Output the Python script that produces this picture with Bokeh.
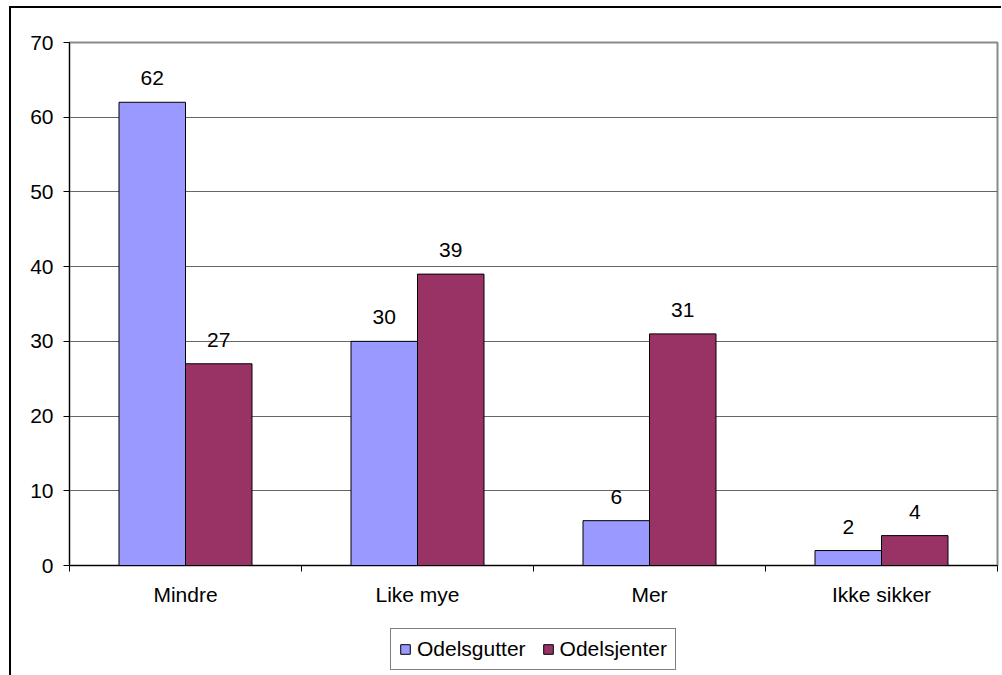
from bokeh.plotting import figure
from bokeh.layouts import column
from bokeh.models import (Range1d, LinearAxis, FixedTicker, ColumnDataSource, Legend, LegendItem)
from bokeh.core.properties import value
from bokeh.embed import file_html
from bokeh.resources import INLINE

categories = ["Mindre", "Like mye", "Mer", "Ikke sikker"]
odelsgutter = [62, 30, 6, 2]
odelsjenter = [27, 39, 31, 4]
series_names = ["Odelsgutter", "Odelsjenter"]
y_ticks = [0, 10, 20, 30, 40, 50, 60, 70]

FONT = "Liberation Sans"
FS = "21px"
BLUE = "#9999FF"
RED = "#993366"
BW = 0.2866

n = len(categories)
centers = [i + 0.5 for i in range(n)]
src = ColumnDataSource(dict(
    x1=[c - BW / 2 for c in centers], x2=[c + BW / 2 for c in centers],
    v1=odelsgutter, v2=odelsjenter,
    t1=[str(v) for v in odelsgutter], t2=[str(v) for v in odelsjenter],
))

p = figure(width=990, height=610, x_range=Range1d(0, n),
           y_range=Range1d(0, 70), x_axis_location=None, output_backend="svg",
           toolbar_location=None, min_border_left=58, min_border_top=34,
           min_border_right=4, min_border_bottom=53)
p.background_fill_color = "white"
p.border_fill_color = "white"
p.outline_line_color = "#8a8a8a"
p.outline_line_width = 2

bar_style = dict(width=BW, line_color="black", line_width=1)
r1 = p.vbar(x="x1", top="v1", source=src, fill_color=BLUE, **bar_style)
r2 = p.vbar(x="x2", top="v2", source=src, fill_color=RED, **bar_style)

for xc, col, t in (("x1", "v1", "t1"), ("x2", "v2", "t2")):
    p.text(x=xc, y=col, text=t, source=src,
           text_font=value(FONT), text_font_size=FS, text_align="center",
           text_baseline="alphabetic", y_offset=-24, text_color="black")

# y axis
p.yaxis.ticker = FixedTicker(ticks=y_ticks)
p.yaxis.axis_line_color = "black"
p.yaxis.major_tick_line_color = "black"
p.yaxis.major_tick_out = 6
p.yaxis.major_tick_in = 0
p.yaxis.minor_tick_line_color = None
p.yaxis.major_label_text_font = FONT
p.yaxis.major_label_text_font_size = FS
p.yaxis.major_label_text_color = "black"
p.yaxis.major_label_standoff = 10
p.ygrid.ticker = FixedTicker(ticks=y_ticks)
p.ygrid.grid_line_color = "#666666"
p.ygrid.grid_line_width = 1
p.xgrid.visible = False

# x axis: boundary ticks + category labels
tick_axis = LinearAxis(ticker=FixedTicker(ticks=list(range(n + 1))))
tick_axis.axis_line_color = "black"
tick_axis.major_tick_line_color = "black"
tick_axis.major_tick_out = 6
tick_axis.major_tick_in = 0
tick_axis.minor_tick_line_color = None
tick_axis.major_label_text_font_size = "1px"
tick_axis.major_label_text_color = None
tick_axis.major_label_standoff = 0
p.add_layout(tick_axis, "below")

cat_axis = LinearAxis(ticker=FixedTicker(ticks=centers),
                      major_label_overrides={c: lab for c, lab in zip(centers, categories)})
cat_axis.axis_line_color = None
cat_axis.major_tick_line_color = None
cat_axis.minor_tick_line_color = None
cat_axis.major_tick_out = 0
cat_axis.major_tick_in = 0
cat_axis.major_label_text_font = FONT
cat_axis.major_label_text_font_size = FS
cat_axis.major_label_text_color = "black"
cat_axis.major_label_standoff = 11
p.add_layout(cat_axis, "below")

# legend strip below the chart
lg = figure(width=990, height=57, x_range=Range1d(0, n), y_range=Range1d(0, 70),
            x_axis_location=None, y_axis_location=None, output_backend="svg",
            toolbar_location=None, min_border=0)
lg.grid.visible = False
lg.outline_line_color = None
lg.background_fill_color = "white"
lg.border_fill_color = "white"
l1 = lg.vbar(x="x1", top="v1", source=src, fill_color=BLUE, visible=False, **bar_style)
l2 = lg.vbar(x="x2", top="v2", source=src, fill_color=RED, visible=False, **bar_style)

legend = Legend(items=[LegendItem(label=series_names[0], renderers=[l1]),
                       LegendItem(label=series_names[1], renderers=[l2])],
                orientation="horizontal", location=(321, 5), margin=0, padding=8,
                spacing=16, glyph_width=12, glyph_height=12, label_standoff=6,
                label_height=19, label_text_font=FONT, label_text_font_size=FS,
                label_text_color="black", border_line_color="black", border_line_width=1,
                background_fill_color="white", background_fill_alpha=1.0,
                inactive_fill_alpha=0.0)
lg.add_layout(legend, "center")

layout = column(p, lg, spacing=0,
                styles={"border-left": "2px solid black", "border-top": "2px solid black",
                        "margin-left": "9px", "margin-top": "6px"})

open("out.html", "w").write(file_html(layout, INLINE))
